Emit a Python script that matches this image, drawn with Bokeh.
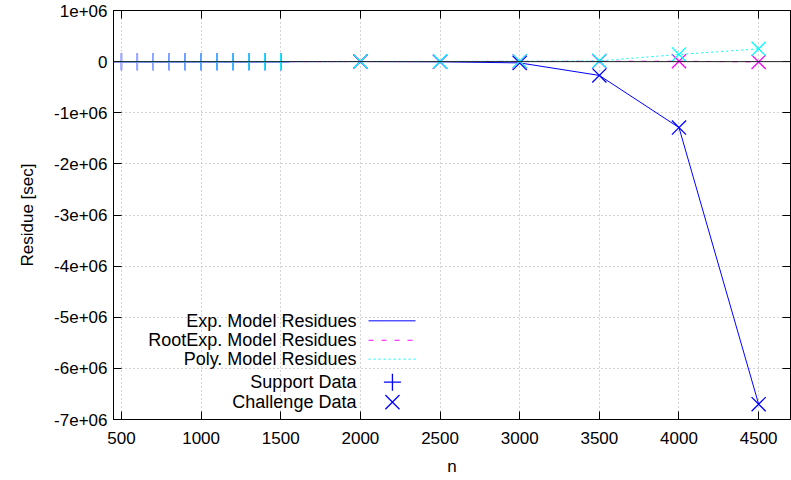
from bokeh.plotting import figure
from bokeh.models import Range1d, FixedTicker, LinearAxis, Span, Label, Arrow
from bokeh.embed import file_html
from bokeh.resources import INLINE

# ---------------- data ----------------
support_n = [500, 600, 700, 800, 900, 1000, 1100, 1200, 1300, 1400, 1500]
challenge_n = [2000, 2500, 3000, 3500, 4000, 4500]

exp_support = [0, 0, 0, 0, 0, 0, 0, 0, 0, 0, 0]
exp_challenge = [2000, -3000, -25000, -270000, -1290000, -6700000]

rootexp_support = [0, 0, 0, 0, 0, 0, 0, 0, 0, 0, 0]
rootexp_challenge = [1000, 2000, 4000, 6000, 8000, -6000]

poly_support = [0, 0, 0, 0, 0, 0, 0, 0, 0, 0, 0]
poly_challenge = [3000, 5000, 8000, 15000, 140000, 250000]

x_ticks = [500, 1000, 1500, 2000, 2500, 3000, 3500, 4000, 4500]
y_ticks = [1e6, 0, -1e6, -2e6, -3e6, -4e6, -5e6, -6e6, -7e6]
y_tick_labels = ["1e+06", "0", "-1e+06", "-2e+06", "-3e+06", "-4e+06",
                 "-5e+06", "-6e+06", "-7e+06"]

series_names = ["Exp. Model Residues", "RootExp. Model Residues", "Poly. Model Residues"]
marker_names = ["Support Data", "Challenge Data"]

FONT = "Liberation Sans"
FS = "17px"
LEG_FS = "18px"

p = figure(width=791, height=480, output_backend="svg", toolbar_location=None,
           x_range=Range1d(450, 4700), y_range=Range1d(-7e6, 1e6),
           min_border_left=113, min_border_right=1, min_border_top=10,
           min_border_bottom=61)
p.background_fill_color = "white"
p.border_fill_color = "white"
p.outline_line_color = "black"
p.outline_line_width = 1

# axes
for ax in (p.xaxis[0], p.yaxis[0]):
    ax.major_tick_in = 8
    ax.major_tick_out = 0
    ax.minor_tick_in = 0
    ax.minor_tick_out = 0
    ax.axis_line_color = "black"
    ax.major_tick_line_color = "black"
    ax.major_label_text_font = FONT
    ax.major_label_text_font_size = FS
    ax.major_label_text_color = "black"
    ax.axis_label_text_font = FONT
    ax.axis_label_text_font_size = FS
    ax.axis_label_text_font_style = "normal"
    ax.axis_label_text_color = "black"

p.xaxis[0].ticker = FixedTicker(ticks=x_ticks)
p.yaxis[0].ticker = FixedTicker(ticks=y_ticks)
p.yaxis[0].major_label_overrides = {t: l for t, l in zip(y_ticks, y_tick_labels)}
p.xaxis[0].major_label_standoff = 12
p.yaxis[0].major_label_standoff = 6
p.xaxis[0].axis_label = "n"
p.yaxis[0].axis_label = "Residue [sec]"
p.xaxis[0].axis_label_standoff = 10
p.yaxis[0].axis_label_standoff = 14

# mirrored ticks (top / right), no labels
for loc, tick in (("above", x_ticks), ("right", y_ticks)):
    ax = LinearAxis(ticker=FixedTicker(ticks=tick))
    ax.major_tick_in = 8
    ax.major_tick_out = 0
    ax.minor_tick_in = 0
    ax.minor_tick_out = 0
    ax.major_label_overrides = {t: "" for t in tick}
    ax.major_label_standoff = 0
    ax.axis_line_color = "black"
    ax.major_tick_line_color = "black"
    p.add_layout(ax, loc)

# grid
p.xgrid.ticker = FixedTicker(ticks=x_ticks)
p.ygrid.ticker = FixedTicker(ticks=y_ticks)
for g in (p.xgrid[0], p.ygrid[0]):
    g.grid_line_color = "#a8a8a8"
    g.grid_line_dash = "1 3"
    g.grid_line_width = 1

p.add_layout(Span(location=0, dimension="width", line_color="#222222", line_width=1))

# series
all_n = support_n + challenge_n
series = [
    (exp_support, exp_challenge, "blue", "solid"),
    (rootexp_support, rootexp_challenge, "magenta", "5 8"),
    (poly_support, poly_challenge, "cyan", "2 3"),
]
for sup, cha, color, dash in series:
    p.line(all_n, sup + cha, line_color=color, line_width=1, line_dash=dash)
    p.scatter(support_n, sup, marker="cross", size=17, line_color=color,
              line_width=1.3, fill_alpha=0)
    p.scatter(challenge_n, cha, marker="x", size=20, line_color=color,
              line_width=1.3, fill_alpha=0)

# legend (gnuplot style: text right-aligned, sample to the right)
leg_text_x = 1975
leg_line_x0, leg_line_x1, leg_mark_x = 2051, 2346, 2201
leg_rows_y = [-5.07e6, -5.45e6, -5.82e6, -6.27e6, -6.66e6]
for i, (name, (_, _, color, dash)) in enumerate(zip(series_names, series)):
    y = leg_rows_y[i]
    p.add_layout(Label(x=leg_text_x, y=y, text=name, text_align="right",
                       text_baseline="middle", text_font=FONT, text_font_size=LEG_FS,
                       text_color="black"))
    p.add_layout(Arrow(x_start=leg_line_x0, y_start=y, x_end=leg_line_x1, y_end=y,
                       start=None, end=None, line_color=color, line_width=1,
                       line_dash=dash))
for j, (name, mk, sz) in enumerate(zip(marker_names, ["cross", "x"], [17, 20])):
    y = leg_rows_y[3 + j]
    p.add_layout(Label(x=leg_text_x, y=y, text=name, text_align="right",
                       text_baseline="middle", text_font=FONT, text_font_size=LEG_FS,
                       text_color="black"))
    p.scatter([leg_mark_x], [y], marker=mk, size=sz, line_color="blue",
              line_width=1.3, fill_alpha=0)

open("out.html", "w").write(file_html(p, INLINE))
